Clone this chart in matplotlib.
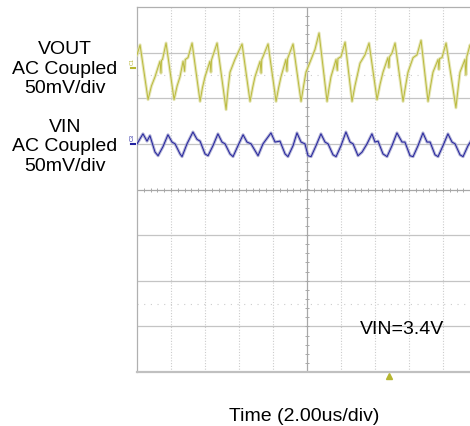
import matplotlib.pyplot as plt
import numpy as np

plt.rcParams['font.family'] = ['Liberation Sans', 'DejaVu Sans']

# time in us, AC-coupled ripple in mV
vout_t = [0.00, 0.18, 0.65, 0.85, 1.06, 1.35, 1.41, 1.44, 1.50, 1.71, 2.18, 2.36, 2.53, 2.71, 2.80, 2.84, 3.00,
          3.24, 3.71, 3.85, 4.00, 4.29, 4.35, 4.38, 4.41, 4.71, 5.24, 5.35, 5.47, 5.76, 6.18, 6.65, 6.80, 6.94,
          7.24, 7.30, 7.34, 7.41, 7.71, 8.18, 8.33, 8.47, 8.76, 8.82, 8.86, 9.18, 9.65, 9.80, 9.94, 10.24,
          10.47, 10.71, 11.18, 11.30, 11.41, 11.71, 11.78, 11.82, 12.00, 12.24, 12.65, 12.82, 13.00, 13.12,
          13.41, 13.65, 14.12, 14.30, 14.47, 14.76, 14.82, 14.86, 15.00, 15.18, 15.65, 15.80, 15.94, 16.24,
          16.47, 16.71, 17.12, 17.27, 17.41, 17.71, 17.76, 17.80, 17.94, 18.18, 18.76, 18.88, 19.00, 19.29,
          19.35, 19.40, 19.59, 19.80]
vout_mv = [14, 25, -35, -20, -10, 7, -6, 8, 9, 27, -35, -20, -10, 7, -4, 9, 11,
           27, -37, -22, -10, 7, -5, 8, 10, 27, -46, -24, -5, 9, 26, -37, -22, -10,
           7, -6, 9, 12, 26, -37, -22, -10, 9, -4, 10, 26, -37, -20, -5, 9,
           20, 38, -37, -22, -10, 9, -3, 10, 12, 28, -37, -20, -5, 5,
           14, 27, -35, -18, -5, 11, 0, 12, 16, 27, -37, -20, -5, 11,
           14, 30, -37, -20, -5, 9, -2, 10, 11, 27, -44, -24, -5, 9,
           -8, 12, 25, 10]

vin_t = [0.00, 0.35, 0.59, 0.76, 1.06, 1.24, 1.53, 1.82, 2.06, 2.24, 2.53, 2.65, 2.94, 3.29,
         3.53, 3.71, 4.00, 4.18, 4.47, 4.76, 5.00, 5.18, 5.47, 5.65, 5.94, 6.24, 6.47, 6.71,
         7.12, 7.41, 7.88, 8.12, 8.41, 8.71, 8.88, 9.18, 9.41, 9.65, 9.88, 10.06, 10.24, 10.53,
         10.82, 11.06, 11.24, 11.53, 11.71, 12.00, 12.29, 12.53, 12.71, 13.00, 13.24, 13.53,
         13.82, 14.00, 14.18, 14.47, 14.71, 15.00, 15.29, 15.59, 15.76, 16.06, 16.24, 16.53,
         16.82, 17.06, 17.24, 17.53, 17.71, 18.00, 18.29, 18.53, 18.71, 19.00, 19.18, 19.47,
         19.71]
vin_mv = [0, 11, 3, 9, -9, -13, -3, 10, 2, 0, -11, -14, 0, 13,
          5, 3, -11, -13, -2, 11, 2, 0, -11, -14, -2, 10, 2, 0,
          -13, 0, 12, 2, 3, -11, -14, -2, 12, 2, 0, -13, -14, -2,
          11, 2, 0, -12, -14, -2, 13, 2, 0, -13, -9, 0,
          11, 2, 3, -11, -14, -2, 12, 2, 2, -13, -14, -2,
          12, 2, 2, -12, -14, -2, 11, 2, 0, -12, -14, -2,
          5]

mv_per_div = 50
us_per_div = 2
vout_pos = 2.67   # channel 1 ground marker, divisions
vin_pos = 1.0     # channel 3 ground marker, divisions
trig_t = 14.8

fig = plt.figure(figsize=(4.7, 4.27), dpi=100)
ax = fig.add_axes([137 / 470, 54 / 427, 340 / 470, 365 / 427])
ax.set_xlim(0, 10 * us_per_div)
ax.set_ylim(-4, 4)
ax.set_xticks([])
ax.set_yticks([])

grid_c = '#cccccc'
for i in range(1, 10):
    if i == 5:
        continue
    ax.axvline(i * us_per_div, color=grid_c, lw=0.8, ls=(0, (1, 1.5)), zorder=1)
for y in [-3, -2, -1, 1, 2, 3]:
    ax.axhline(y, color='#c4c4c4', lw=0.9, zorder=1)
for y in [-2.5, 2.5]:
    ax.axhline(y, color=grid_c, lw=0.8, ls=(0, (1, 5)), zorder=1)
ax.axhline(0, color='#a8a8a8', lw=0.9, zorder=1)
ax.axvline(5 * us_per_div, color='#a8a8a8', lw=0.9, zorder=1)

# minor ticks on the centre cross
xt = np.arange(0, 20.01, us_per_div / 5)
ax.plot(xt, np.zeros_like(xt), '|', color='#a8a8a8', ms=3, mew=0.7, zorder=1)
yt = np.arange(-4, 4.01, 0.2)
ax.plot(np.full_like(yt, 10), yt, '_', color='#a8a8a8', ms=3, mew=0.7, zorder=1)

for s in ax.spines.values():
    s.set_color('#b0b0b0')
    s.set_linewidth(0.9)
ax.spines['bottom'].set_linewidth(1.6)
ax.spines['bottom'].set_color('#c0c0c0')

vout_y = vout_pos + np.array(vout_mv) / mv_per_div
vin_y = vin_pos + np.array(vin_mv) / mv_per_div

ax.plot(vout_t, vout_y, color='#e0e0a8', lw=2.2, alpha=0.8, zorder=3)
ax.plot(vout_t, vout_y, color='#baba3c', lw=0.7, zorder=4)
ax.plot(vin_t, vin_y, color='#a0a0cc', lw=2.2, alpha=0.8, zorder=3)
ax.plot(vin_t, vin_y, color='#22229c', lw=0.7, zorder=4)

# channel ground markers and trigger position
ax.plot([-0.35, -0.1], [vout_pos, vout_pos], color='#b6b630', lw=1.5, clip_on=False)
ax.text(-0.25, vout_pos + 0.08, 'C1', fontsize=4, color='#b6b630', rotation=90,
        ha='center', va='bottom')
ax.plot([-0.35, -0.1], [vin_pos, vin_pos], color='#2222a0', lw=1.5, clip_on=False)
ax.text(-0.25, vin_pos + 0.08, 'C3', fontsize=4, color='#2222a0', rotation=90,
        ha='center', va='bottom')
ax.plot([trig_t], [-4.08], marker='^', color='#b6b630', ms=4, clip_on=False)

ax.text(0.78, 0.118, 'VIN=3.4V', transform=ax.transAxes, fontsize=14,
        ha='center', va='center')

fig.text(65 / 470, 1 - 69 / 427, 'VOUT\nAC Coupled\n50mV/div', fontsize=14,
         ha='center', va='center', linespacing=1.2)
fig.text(65 / 470, 1 - 147 / 427, 'VIN\nAC Coupled\n50mV/div', fontsize=14,
         ha='center', va='center', linespacing=1.2)
fig.text(304 / 470, 1 - 417 / 427, 'Time (2.00us/div)', fontsize=14,
         ha='center', va='center')

fig.savefig('out.png', dpi=100)
